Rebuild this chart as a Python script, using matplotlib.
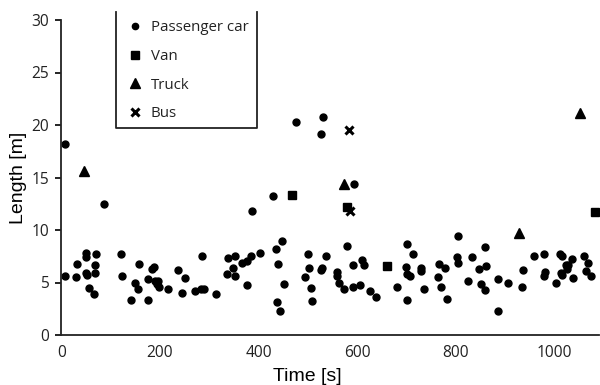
import matplotlib
matplotlib.use("Agg")
import matplotlib.pyplot as plt
from matplotlib.lines import Line2D

# ---- data (time [s], length [m]) ----
car_time = [7, 86, 387, 430, 476, 527, 530, 594,
            7, 29, 31, 50, 50, 50, 52, 55, 66, 67, 69, 71, 120, 123, 142, 149, 155, 158,
            176, 176, 184, 187, 190, 193, 197, 196, 217, 236, 245, 250, 271, 284, 290, 285,
            314, 337, 352, 349, 336, 352, 366, 376, 385, 403, 376, 435, 447, 440, 451, 438,
            443, 500, 502, 495, 506, 508, 526, 529, 537, 579, 560, 560, 563, 574, 592, 592,
            606, 610, 614, 627, 638, 681, 702, 713, 699, 702, 707, 702, 730, 730, 735, 767,
            778, 765, 770, 783, 805, 802, 805, 826, 834, 848, 861, 859, 851, 859, 886, 906,
            886, 937, 934, 959, 980, 982, 980, 1012, 1016, 1013, 1016, 1004, 1024, 1028,
            1026, 1037, 1039, 1060, 1069, 1064, 1074]
car_length = [18.2, 12.5, 11.8, 13.2, 20.3, 19.1, 20.8, 14.4,
              5.6, 5.5, 6.8, 7.8, 7.4, 5.9, 5.7, 4.5, 3.9, 6.7, 5.9, 7.7, 7.7, 5.65, 3.3, 5.0, 4.4, 6.8,
              5.3, 3.3, 6.3, 6.5, 5.1, 4.9, 4.6, 5.1, 4.4, 6.2, 4.0, 5.4, 4.2, 4.4, 4.4, 7.5,
              3.9, 7.3, 7.55, 6.4, 5.8, 5.65, 6.9, 7.05, 7.55, 7.85, 4.8, 8.2, 9.0, 6.8, 4.9, 3.1,
              2.3, 7.7, 6.35, 5.55, 4.5, 3.2, 6.2, 6.4, 7.55, 8.45, 6.0, 5.65, 5.0, 4.4, 6.7, 4.6,
              4.8, 7.15, 6.7, 4.2, 3.6, 4.6, 8.7, 7.7, 6.5, 5.8, 5.6, 3.3, 6.35, 6.1, 4.4, 6.8,
              6.4, 5.5, 4.6, 3.4, 9.4, 7.45, 6.9, 5.15, 7.45, 6.3, 6.55, 8.35, 4.85, 4.3, 5.3, 5.0,
              2.3, 6.2, 4.6, 7.55, 7.7, 6.0, 5.6, 7.7, 7.5, 5.9, 5.75, 5.0, 6.65, 6.7,
              6.25, 7.2, 5.4, 7.55, 6.9, 6.05, 5.65]
van_time = [468, 579, 661, 1082]
van_length = [13.3, 12.2, 6.55, 11.7]
truck_time = [45, 573, 928, 1053]
truck_length = [15.6, 14.4, 9.7, 21.1]
bus_time = [583, 585]
bus_length = [19.5, 11.8]

x_ticks = [0, 200, 400, 600, 800, 1000]
y_ticks = [0, 5, 10, 15, 20, 25, 30]
labels = ["Passenger car", "Van", "Truck", "Bus"]

W, H = 600, 385
fig = plt.figure(figsize=(6, 3.85), dpi=100)
ax = fig.add_axes([61.5 / W, 50 / H, 537 / W, 315 / H])

ax.plot(car_time, car_length, linestyle="none", marker="o", ms=5, color="black")
ax.plot(van_time, van_length, linestyle="none", marker="s", ms=5.5, color="black")
ax.plot(truck_time, truck_length, linestyle="none", marker="^", ms=7, color="black")
ax.plot(bus_time, bus_length, linestyle="none", marker="x", ms=6, mew=2.2, color="black")

ax.set_xlim(0, 1090)
ax.set_ylim(0, 30)
ax.set_xticks(x_ticks)
ax.set_yticks(y_ticks)

tick_font = "Open Sans"
fs = 11.2
for lab in ax.get_xticklabels() + ax.get_yticklabels():
    lab.set_fontfamily(tick_font)
    lab.set_fontsize(fs)
    lab.set_color("#222222")

ax.tick_params(axis="y", direction="out", length=4, width=1.2, pad=5)
ax.tick_params(axis="x", length=0, pad=7)
for s in ["top", "right"]:
    ax.spines[s].set_visible(False)
for s in ["left", "bottom"]:
    ax.spines[s].set_linewidth(1.3)
    ax.spines[s].set_color("#222222")

ax.set_xlabel("Time [s]", fontfamily="Liberation Sans", fontsize=14)
ax.xaxis.set_label_coords((307 - 61.5) / 537, (335 - 368) / 315)
ax.set_ylabel("Length [m]", fontfamily="Liberation Sans", fontsize=14, labelpad=3)

handles = [
    Line2D([], [], linestyle="none", marker="o", ms=4.5, color="black"),
    Line2D([], [], linestyle="none", marker="s", ms=6, color="black"),
    Line2D([], [], linestyle="none", marker="^", ms=7, color="black"),
    Line2D([], [], linestyle="none", marker="x", ms=6, mew=2.2, color="black"),
]
leg_fs = 10.8
leg = fig.legend(handles, labels, loc="upper left",
                 bbox_to_anchor=(127 / W, 1 - 20 / H), bbox_transform=fig.transFigure,
                 frameon=False, borderpad=0, borderaxespad=0,
                 labelspacing=0.92, handlelength=1.0, handletextpad=0.6,
                 prop={"family": tick_font, "size": leg_fs})
for t in leg.get_texts():
    t.set_color("#222222")

# legend box (top edge cut off in the reference)
fx = [116 / W, 116 / W, 257 / W, 257 / W]
fy = [1 - 12 / H, 1 - 128 / H, 1 - 128 / H, 1 - 12 / H]
fig.add_artist(Line2D(fx, fy, transform=fig.transFigure, color="#222222", lw=1.3))

fig.savefig("out.png", dpi=100)
